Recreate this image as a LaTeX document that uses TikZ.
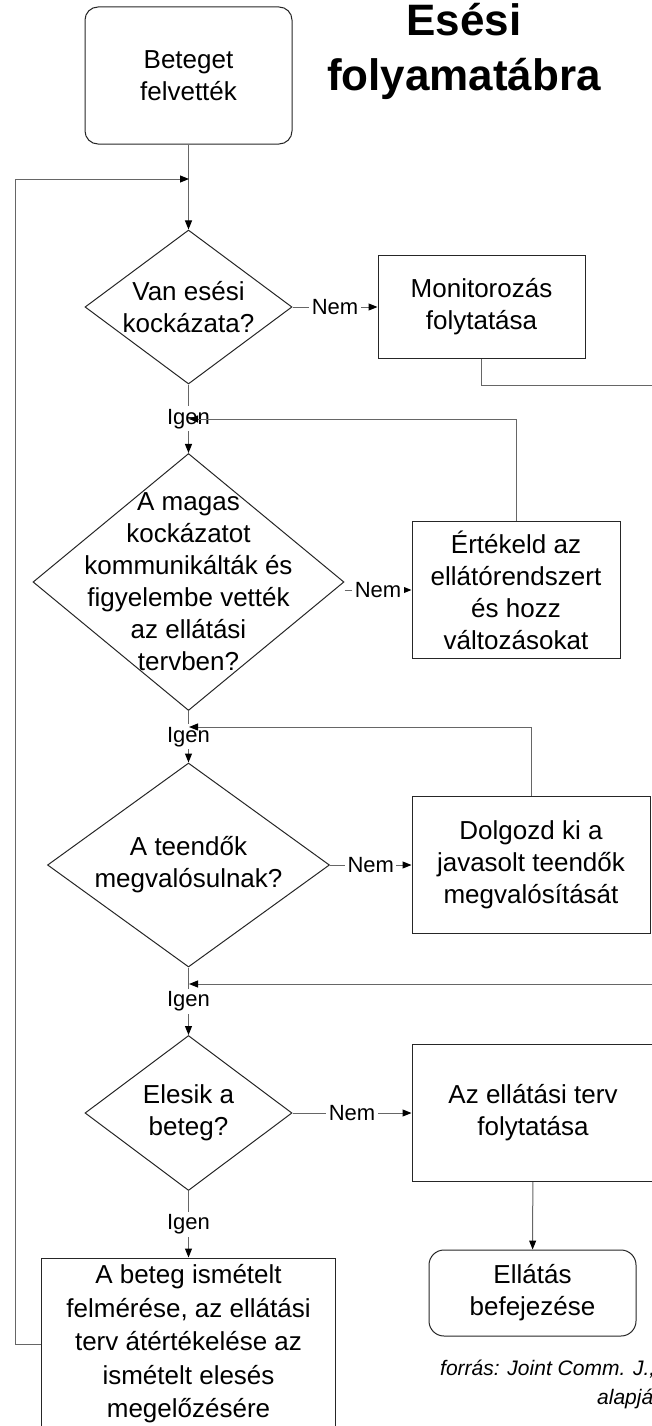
\documentclass[tikz,border=0pt]{standalone}
\usepackage{fontspec}
\setmainfont{Liberation Sans}
\usetikzlibrary{shapes.geometric,arrows.meta}

\newcommand\boxfont{\fontsize{26}{32}\selectfont}
\newcommand\lblfont{\fontsize{22}{26}\selectfont}

\begin{document}
\begin{tikzpicture}[x=1pt,y=-1pt]

    \tikzset{
      act/.style={
        draw=black!85,
        line width=1pt,
        align=center,
        font=\boxfont,
        inner sep=0pt,
      },
      term/.style={act, rounded corners=13pt},
      decision/.style={diamond, draw=black!85, line width=1pt, inner sep=0pt},
      qtext/.style={align=center, font=\boxfont},
      arr/.style={draw=black!60, line width=1pt, -{Triangle[length=9pt,width=7pt,color=black]}},
      lbl/.style={fill=white, font=\lblfont, inner sep=2.5pt},
      heading/.style={align=center, font=\bfseries\fontsize{44}{55}\selectfont},
      src/.style={font=\itshape\fontsize{21}{26}\selectfont, inner sep=0pt},
    }
    \useasboundingbox (0,0) rectangle (652,1426);
    \clip (0,0) rectangle (652,1426);

    \node[heading] (title) at (464,51) {Esési\\folyamatábra};
    \node[term, minimum width=207, minimum height=137] (start) at (188.5,75.5) {Beteget\\felvették};
    \node[decision, minimum width=207, minimum height=154,
      label={[qtext,name=q1t]center:Van esési\\kockázata?}] (q1) at (188.5,307) {};
    \node[act, minimum width=207, minimum height=103] (mon) at (481.5,307) {Monitorozás\\folytatása};
    \node[decision, minimum width=311, minimum height=257,
      label={[qtext,name=q2t]center:A magas\\kockázatot\\kommunikálták és\\figyelembe vették\\az ellátási\\tervben?}] (q2) at (188.5,582) {};
    \node[act, minimum width=208, minimum height=137] (fix2) at (516,590) {Értékeld az\\ellátórendszert\\és hozz\\változásokat};
    \node[decision, minimum width=282, minimum height=204,
      label={[qtext,name=q3t]center:A teendők\\megvalósulnak?}] (q3) at (188.5,865) {};
    \node[act, minimum width=238, minimum height=137] (fix3) at (531,865) {Dolgozd ki a\\javasolt teendők\\megvalósítását};
    \node[decision, minimum width=207, minimum height=155,
      label={[qtext,name=q4t]center:Elesik a\\beteg?}] (q4) at (188.5,1113) {};
    \node[act, minimum width=242, minimum height=137] (cont) at (533,1113) {Az ellátási terv\\folytatása};
    \node[term, rounded corners=15pt, minimum width=207, minimum height=86] (stop) at (532.5,1293) {Ellátás\\befejezése};
    \node[act, minimum width=294, minimum height=172, font=\fontsize{26}{33.5}\selectfont] (redo) at (188.5,1344)
      {A beteg ismételt\\felmérése, az ellátási\\terv átértékelése az\\ismételt elesés\\megelőzésére};
    \node[src, anchor=base west] (src1) at (440,1375) {forrás: Joint Comm. J.,};
    \node[src, anchor=base west] (src2) at (597,1404) {alapján};

    \coordinate (m0) at (189,179);
    \coordinate (m1) at (189,419);
    \coordinate (m2) at (189,727);
    \coordinate (m3) at (189,984);

    \draw[arr] (start) -- (q1);
    \draw[arr] (q1) -- node[lbl] (n1) {Nem} (mon);
    \draw[arr] (q1) -- node[lbl] (y1) {Igen} (q2);
    \draw[arr] (fix2.north) |- (m1);
    \draw[arr] (q2.east |- fix2.west) -- node[lbl] (n2) {Nem} (fix2.west);
    \draw[arr] (q2) -- node[lbl] (y2) {Igen} (q3);
    \draw[arr] (fix3.north) |- (m2);
    \draw[arr] (q3) -- node[lbl] (n3) {Nem} (fix3);
    \draw[arr] (mon.south) -- ++(0,26) -- ++(200,0) |- (m3);
    \draw[arr] (q3) -- node[lbl] (y3) {Igen} (q4);
    \draw[arr] (q4) -- node[lbl] (n4) {Nem} (cont);
    \draw[arr] (q4) -- node[lbl] (y4) {Igen} (redo);
    \draw[arr] (cont) -- (stop);
    \draw[arr] (redo.west) -- ++(-26,0) |- (m0);

\end{tikzpicture}
\end{document}
